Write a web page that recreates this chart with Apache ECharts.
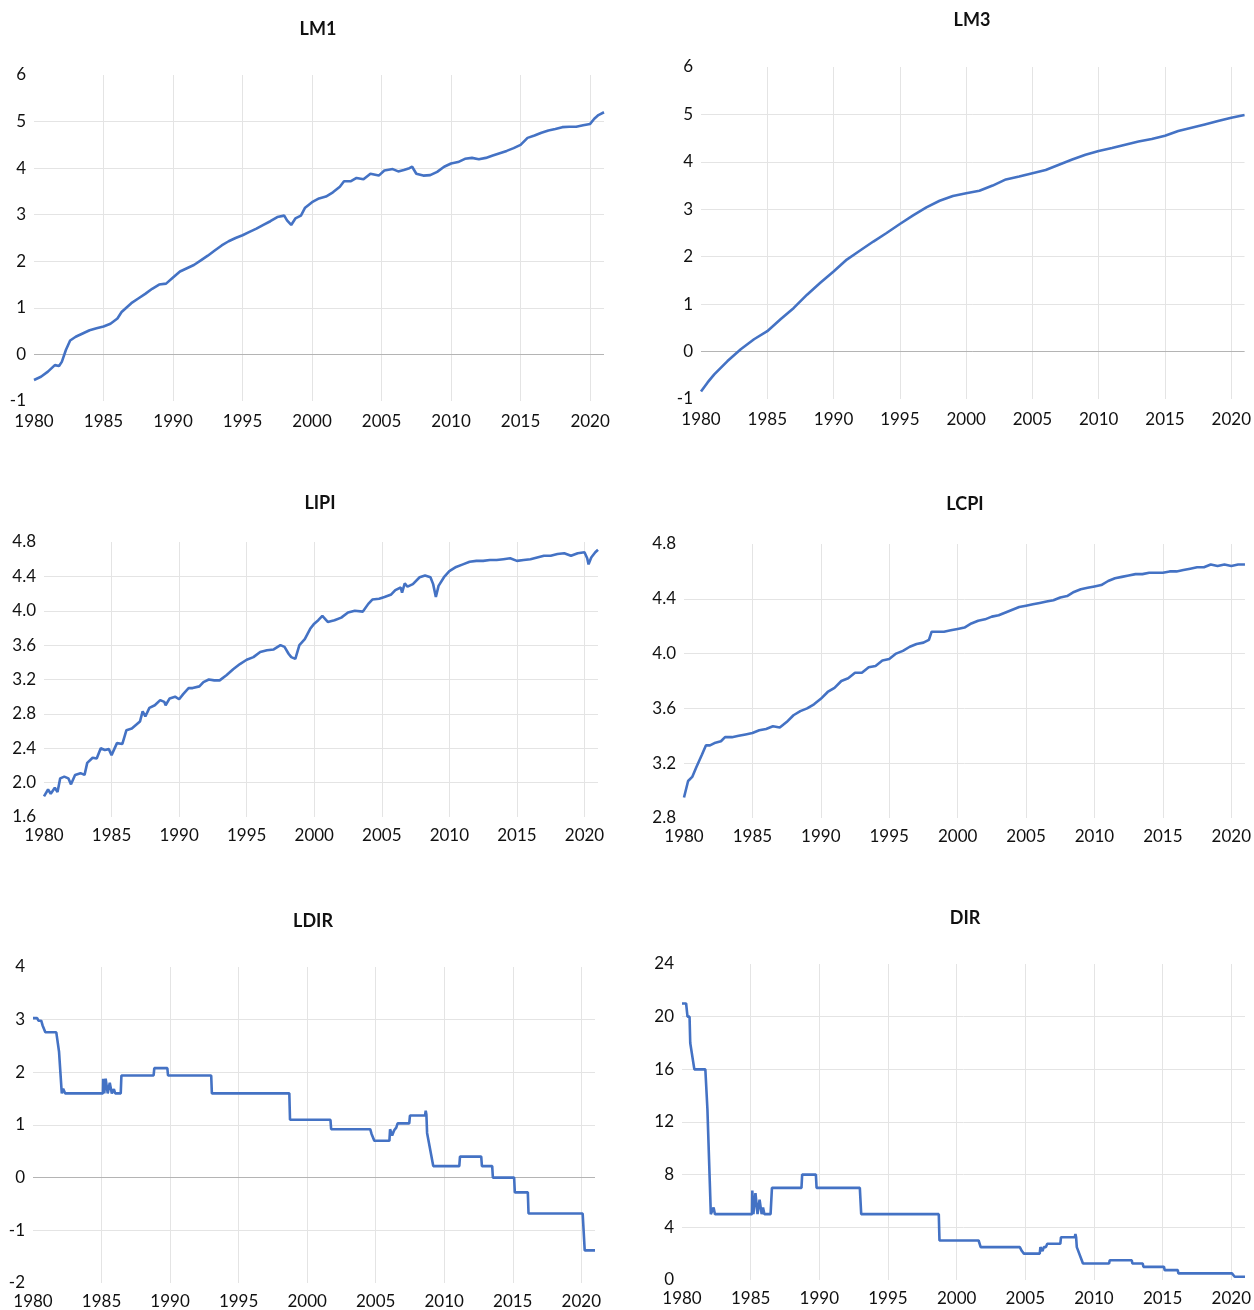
<!DOCTYPE html>
<html>
<head>
<meta charset="utf-8">
<script src="https://cdn.jsdelivr.net/npm/echarts@6/dist/echarts.min.js"></script>
<style>
  html, body { margin: 0; padding: 0; background: #fff; }
  #chart { width: 1254px; height: 1310px; }
</style>
</head>
<body>
<div id="chart"></div>
<script>
// ---- data (year, value) ----
var lm1Years = [1980,1980.5,1981,1981.5,1981.8,1982,1982.3,1982.6,1983,1983.5,1984,1984.5,1985,1985.5,1986,1986.3,1986.7,1987,1987.5,1988,1988.5,1989,1989.5,1990,1990.5,1991,1991.5,1992,1992.5,1993,1993.5,1994,1994.5,1995,1995.5,1996,1996.5,1997,1997.5,1998,1998.2,1998.5,1998.8,1999.2,1999.5,2000,2000.5,2001,2001.5,2002,2002.3,2002.8,2003.2,2003.7,2004.2,2004.8,2005.2,2005.8,2006.2,2006.6,2007,2007.2,2007.5,2008,2008.5,2009,2009.5,2010,2010.5,2011,2011.5,2012,2012.5,2013,2013.5,2014,2014.5,2015,2015.5,2016,2016.5,2017,2017.5,2018,2018.5,2019,2019.5,2020,2020.3,2020.6,2021];
var lm1Values = [-0.55,-0.48,-0.37,-0.23,-0.25,-0.16,0.1,0.3,0.38,0.45,0.52,0.56,0.6,0.66,0.77,0.91,1.02,1.1,1.2,1.3,1.41,1.5,1.52,1.65,1.78,1.85,1.92,2.02,2.12,2.23,2.34,2.43,2.5,2.56,2.63,2.7,2.78,2.86,2.95,2.98,2.88,2.78,2.92,2.98,3.15,3.27,3.35,3.39,3.48,3.6,3.72,3.72,3.79,3.76,3.88,3.84,3.95,3.98,3.93,3.96,4.0,4.03,3.88,3.84,3.85,3.92,4.03,4.1,4.13,4.2,4.22,4.19,4.22,4.27,4.32,4.37,4.43,4.5,4.65,4.7,4.76,4.81,4.84,4.88,4.89,4.89,4.92,4.95,5.06,5.14,5.2];

var lm3Years = [1980,1980.5,1981,1982,1983,1984,1985,1986,1987,1988,1989,1990,1991,1992,1993,1994,1995,1996,1997,1998,1999,2000,2001,2002,2003,2004,2005,2006,2007,2008,2009,2010,2011,2012,2013,2014,2015,2016,2017,2018,2019,2020,2021];
var lm3Values = [-0.84,-0.65,-0.48,-0.2,0.05,0.26,0.43,0.68,0.92,1.2,1.45,1.69,1.94,2.13,2.32,2.5,2.69,2.87,3.04,3.18,3.28,3.34,3.39,3.5,3.63,3.69,3.76,3.83,3.94,4.05,4.15,4.23,4.29,4.36,4.43,4.48,4.55,4.65,4.72,4.79,4.86,4.93,4.99];

var lipiYears = [1980,1980.3,1980.5,1980.8,1981,1981.2,1981.5,1981.8,1982,1982.3,1982.7,1983,1983.2,1983.6,1983.9,1984.2,1984.5,1984.8,1985,1985.4,1985.8,1986.1,1986.5,1986.8,1987.1,1987.3,1987.5,1987.8,1988.2,1988.6,1988.9,1989,1989.3,1989.7,1990,1990.3,1990.7,1991,1991.5,1991.8,1992.2,1992.6,1993,1993.5,1994,1994.5,1995,1995.5,1996,1996.5,1997,1997.5,1997.8,1998.1,1998.3,1998.6,1998.9,1999.3,1999.7,2000,2000.3,2000.6,2001,2001.5,2002,2002.5,2003,2003.6,2004,2004.3,2004.8,2005.2,2005.7,2006,2006.4,2006.5,2006.7,2006.9,2007.3,2007.8,2008.2,2008.6,2008.8,2009,2009.2,2009.6,2010,2010.5,2011,2011.5,2012,2012.5,2013,2013.5,2014,2014.5,2015,2015.5,2016,2016.5,2017,2017.5,2018,2018.5,2019,2019.5,2020,2020.2,2020.3,2020.5,2020.8,2021];
var lipiValues = [1.84,1.92,1.87,1.94,1.89,2.05,2.07,2.05,1.98,2.09,2.11,2.09,2.23,2.29,2.28,2.4,2.38,2.39,2.32,2.46,2.45,2.61,2.63,2.67,2.71,2.83,2.77,2.87,2.9,2.96,2.94,2.9,2.98,3.0,2.97,3.03,3.1,3.1,3.12,3.17,3.2,3.19,3.19,3.25,3.32,3.38,3.43,3.46,3.52,3.54,3.55,3.6,3.58,3.5,3.46,3.44,3.6,3.67,3.79,3.85,3.89,3.94,3.87,3.89,3.92,3.98,4.0,3.99,4.08,4.13,4.14,4.16,4.19,4.24,4.27,4.21,4.32,4.28,4.31,4.39,4.41,4.39,4.31,4.16,4.29,4.39,4.46,4.51,4.54,4.57,4.58,4.58,4.59,4.59,4.6,4.61,4.58,4.59,4.6,4.62,4.64,4.64,4.66,4.67,4.64,4.67,4.68,4.61,4.54,4.62,4.68,4.71];

var lcpiYears = [1980,1980.3,1980.6,1980.9,1981.3,1981.6,1981.9,1982.3,1982.7,1983,1983.5,1984,1984.5,1985,1985.5,1986,1986.5,1987,1987.5,1988,1988.5,1989,1989.5,1990,1990.5,1991,1991.5,1992,1992.5,1993,1993.5,1994,1994.5,1995,1995.5,1996,1996.5,1997,1997.5,1997.9,1998.1,1998.5,1999,1999.5,2000,2000.5,2001,2001.5,2002,2002.5,2003,2003.5,2004,2004.5,2005,2005.5,2006,2006.5,2007,2007.5,2008,2008.5,2009,2009.5,2010,2010.5,2011,2011.5,2012,2012.5,2013,2013.5,2014,2014.5,2015,2015.5,2016,2016.5,2017,2017.5,2018,2018.5,2019,2019.5,2020,2020.5,2021];
var lcpiValues = [2.95,3.07,3.1,3.17,3.26,3.33,3.33,3.35,3.36,3.39,3.39,3.4,3.41,3.42,3.44,3.45,3.47,3.46,3.5,3.55,3.58,3.6,3.63,3.67,3.72,3.75,3.8,3.82,3.86,3.86,3.9,3.91,3.95,3.96,4.0,4.02,4.05,4.07,4.08,4.1,4.16,4.16,4.16,4.17,4.18,4.19,4.22,4.24,4.25,4.27,4.28,4.3,4.32,4.34,4.35,4.36,4.37,4.38,4.39,4.41,4.42,4.45,4.47,4.48,4.49,4.5,4.53,4.55,4.56,4.57,4.58,4.58,4.59,4.59,4.59,4.6,4.6,4.61,4.62,4.63,4.63,4.65,4.64,4.65,4.64,4.65,4.65];

var ldirYears = [1980,1980.3,1980.4,1980.6,1980.7,1980.9,1981.7,1981.9,1982.1,1982.2,1982.35,1985.1,1985.12,1985.2,1985.3,1985.45,1985.6,1985.75,1985.9,1986.0,1986.4,1986.45,1988.8,1988.85,1989.8,1989.85,1993.0,1993.05,1998.7,1998.75,2001.7,2001.75,2004.6,2004.7,2004.9,2006.0,2006.05,2006.2,2006.35,2006.5,2006.6,2007.45,2007.5,2008.6,2008.65,2008.7,2008.75,2009.2,2011.1,2011.15,2012.7,2012.75,2013.5,2013.55,2015.1,2015.15,2016.1,2016.15,2020.1,2020.25,2021];
var ldirValues = [3.03,3.03,2.98,2.98,2.89,2.76,2.76,2.39,1.6,1.69,1.6,1.6,1.88,1.6,1.88,1.6,1.8,1.6,1.68,1.6,1.6,1.94,1.94,2.08,2.08,1.94,1.94,1.6,1.6,1.1,1.1,0.92,0.92,0.83,0.7,0.7,0.92,0.8,0.9,0.95,1.03,1.03,1.18,1.18,1.27,1.2,0.85,0.22,0.22,0.4,0.4,0.22,0.22,0.0,0.0,-0.28,-0.28,-0.68,-0.68,-1.38,-1.38];

var dirYears = [1980,1980.3,1980.4,1980.55,1980.6,1980.7,1980.9,1981.7,1981.85,1982.1,1982.2,1982.3,1982.4,1985.1,1985.12,1985.2,1985.35,1985.5,1985.65,1985.8,1985.9,1986.0,1986.45,1986.55,1988.7,1988.75,1989.75,1989.8,1992.95,1993.05,1998.7,1998.75,2001.6,2001.75,2004.6,2004.75,2004.9,2006.05,2006.1,2006.25,2006.35,2006.5,2006.6,2007.55,2007.6,2008.6,2008.65,2008.7,2008.75,2009.2,2011.1,2011.15,2012.75,2012.8,2013.55,2013.6,2015.1,2015.15,2016.1,2016.15,2020.05,2020.25,2021];
var dirValues = [21,21,20,20,18,18,16,16,13,5,5,5.5,5,5,6.8,5,6.6,5,6.1,5,5.5,5,5,7,7,8,8,7,7,5,5,3,3,2.5,2.5,2.2,2.0,2.0,2.5,2.2,2.5,2.5,2.75,2.75,3.25,3.25,3.5,3.25,2.5,1.25,1.25,1.5,1.5,1.25,1.25,1.0,1.0,0.75,0.75,0.5,0.5,0.25,0.25];

var panelTitles = ["LM1", "LM3", "LIPI", "LCPI", "LDIR", "DIR"];

// ---- layout ----
var FONT = "Lato, 'Open Sans', sans-serif";
var panels = [
  { years: lm1Years,  values: lm1Values,  yMin: -1,  yMax: 6,   step: 1,   dec: 0, zero: true,  box: [34, 75, 570, 326],   xm: 12, title: [318, 29] },
  { years: lm3Years,  values: lm3Values,  yMin: -1,  yMax: 6,   step: 1,   dec: 0, zero: true,  box: [701, 67, 545, 332],  xm: 12, title: [972, 20] },
  { years: lipiYears, values: lipiValues, yMin: 1.6, yMax: 4.8, step: 0.4, dec: 1, zero: false, box: [44, 542, 554, 275],  xm: 10, title: [320, 503] },
  { years: lcpiYears, values: lcpiValues, yMin: 2.8, yMax: 4.8, step: 0.4, dec: 1, zero: false, box: [684, 544, 563, 274], xm: 10, title: [965, 504] },
  { years: ldirYears, values: ldirValues, yMin: -2,  yMax: 4,   step: 1,   dec: 0, zero: true,  box: [33, 967, 562, 318],  xm: 10, title: [313, 921] },
  { years: dirYears,  values: dirValues,  yMin: 0,   yMax: 24,  step: 4,   dec: 0, zero: false, box: [682, 964, 566, 316], xm: 10, title: [965, 918] }
];

function zip(xs, ys) {
  var out = [];
  for (var i = 0; i < Math.min(xs.length, ys.length); i++) out.push([xs[i], ys[i]]);
  return out;
}

var option = { animation: false, grid: [], xAxis: [], yAxis: [], series: [], graphic: [] };

panels.forEach(function (p, i) {
  option.grid.push({ left: p.box[0], top: p.box[1], width: p.box[2], height: p.box[3] });
  option.xAxis.push({
    type: "value", gridIndex: i, min: 1980, max: 2021, interval: 5,
    axisLine: { show: false }, axisTick: { show: false },
    axisLabel: {
      margin: p.xm, fontSize: 17, color: "#111", fontFamily: FONT, showMaxLabel: false,
      formatter: function (v) { return v % 5 === 0 ? String(v) : ""; }
    },
    splitLine: { show: true, showMinLine: false, showMaxLine: false, lineStyle: { color: "#e4e4e4", width: 1 } }
  });
  option.yAxis.push({
    type: "value", gridIndex: i, min: p.yMin, max: p.yMax, interval: p.step,
    axisLine: { show: false }, axisTick: { show: false },
    axisLabel: {
      margin: 8, fontSize: 17, color: "#111", fontFamily: FONT,
      formatter: function (v) { return v.toFixed(p.dec); }
    },
    splitLine: { show: true, showMinLine: false, showMaxLine: false, lineStyle: { color: "#e4e4e4", width: 1 } }
  });
  var s = {
    type: "line", xAxisIndex: i, yAxisIndex: i,
    data: zip(p.years, p.values),
    showSymbol: false, symbol: "none",
    lineStyle: { color: "#4472C4", width: 2.6 },
    z: 3
  };
  if (p.zero) {
    s.markLine = {
      silent: true, symbol: "none", label: { show: false },
      lineStyle: { color: "#b4b4b4", type: "solid", width: 1 },
      data: [{ yAxis: 0 }], z: 2
    };
  }
  option.series.push(s);
  option.graphic.push({
    type: "text", x: p.title[0], y: p.title[1], z: 10,
    style: {
      text: panelTitles[i], fill: "#111", fontSize: 18, fontFamily: FONT, fontWeight: "bold",
      align: "center", verticalAlign: "middle", textAlign: "center", textVerticalAlign: "middle"
    }
  });
});

var chart = echarts.init(document.getElementById("chart"));
chart.setOption(option);
</script>
</body>
</html>
